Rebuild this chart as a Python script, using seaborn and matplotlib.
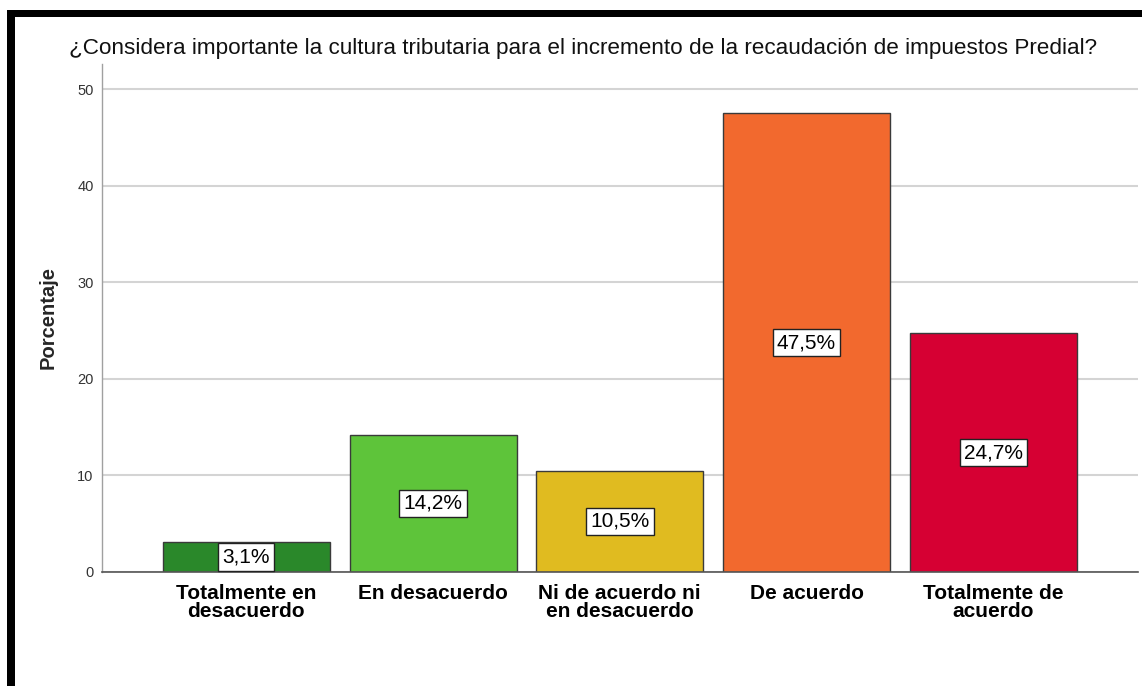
import numpy as np
import pandas as pd
import matplotlib
matplotlib.use("Agg")
import matplotlib.pyplot as plt
import seaborn as sns
from matplotlib.patches import Rectangle

# Data
categorias = ["Totalmente en\ndesacuerdo", "En desacuerdo", "Ni de acuerdo ni\nen desacuerdo",
              "De acuerdo", "Totalmente de\nacuerdo"]
porcentajes = [3.1, 14.2, 10.5, 47.5, 24.7]
colores = ["#2a882a", "#5ec43a", "#e0bb20", "#f2692e", "#d60033"]
y_ticks = [0, 10, 20, 30, 40, 50]

titulo = "¿Considera importante la cultura tributaria para el incremento de la recaudación de impuestos Predial?"

sns.set_style("white")
plt.rcParams["font.family"] = ["Liberation Sans", "DejaVu Sans"]

df = pd.DataFrame({"categoria": categorias, "porcentaje": porcentajes})

fig = plt.figure(figsize=(11.42, 6.86), dpi=100)
ax = fig.add_axes([0.0893, 0.1662, 0.9072, 0.7405])

sns.barplot(data=df, x="categoria", y="porcentaje", hue="categoria", palette=colores,
            saturation=1, legend=False, width=0.895, edgecolor="#3a3a3a", linewidth=1.0,
            ax=ax, zorder=2)

# value labels in white boxes at the middle of each bar
for i, v in enumerate(porcentajes):
    ax.text(i, v / 2, f"{v:.1f}%".replace(".", ","), ha="center", va="center",
            fontsize=15, color="black", zorder=4,
            bbox=dict(boxstyle="square,pad=0.2", facecolor="white", edgecolor="#222222", linewidth=1.0))

ax.set_xlim(-0.773, 4.775)
ax.set_ylim(0, 52.6)
ax.set_yticks(y_ticks)
ax.yaxis.grid(True, color="#d4d4d4", linewidth=1.5, zorder=0)
ax.set_axisbelow(True)

ax.tick_params(axis="y", length=0, labelsize=10.5, labelcolor="#333333", pad=6)
ax.tick_params(axis="x", length=0, labelsize=15, labelcolor="black", pad=9)
for lbl in ax.get_xticklabels():
    lbl.set_fontweight("bold")
    lbl.set_linespacing(0.92)

ax.set_xlabel("")
ax.set_ylabel("Porcentaje", fontsize=14.5, fontweight="bold", labelpad=14)

for side in ["top", "right"]:
    ax.spines[side].set_visible(False)
ax.spines["left"].set_color("#a0a0a0")
ax.spines["left"].set_linewidth(1.0)
ax.spines["bottom"].set_color("#555555")
ax.spines["bottom"].set_linewidth(1.2)

fig.text(0.511, 0.930, titulo, ha="center", va="center", fontsize=16.2, color="#111111")

# black frame on the left and top of the picture
W, H = 1142, 686
fig.patches.append(Rectangle((7 / W, 0), 8 / W, 1 - 10 / H, transform=fig.transFigure,
                             facecolor="black", edgecolor="none"))
fig.patches.append(Rectangle((7 / W, 1 - 17 / H), 1 - 7 / W, 7 / H, transform=fig.transFigure,
                             facecolor="black", edgecolor="none"))

fig.savefig("out.png", dpi=100)
